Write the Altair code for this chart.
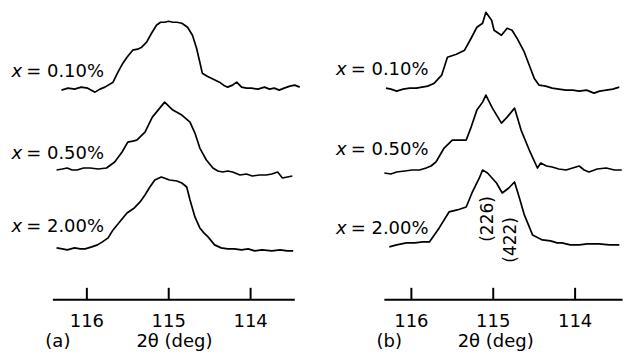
import altair as alt
import pandas as pd

FONT = "DejaVu Sans"

samples = ["0.10%", "0.50%", "2.00%"]
offsets = [266, 180, 106]           # vertical stacking of the three scans
label_lift = {"a": [17, 21, 22], "b": [19, 25, 20]}
ticks = [116, 115, 114]

# ---- panel (a) scans: 2theta (deg) and intensity (arb. units) ----
a010_tt = [116.31, 116.23, 116.15, 116.07, 115.99, 115.90, 115.84, 115.78, 115.68, 115.62,
           115.56, 115.51, 115.44, 115.38, 115.33, 115.27, 115.21, 115.15, 115.10, 115.05,
           115.00, 114.95, 114.90, 114.84, 114.77, 114.71, 114.66, 114.62, 114.59, 114.53,
           114.48, 114.43, 114.38, 114.33, 114.28, 114.22, 114.17, 114.11, 114.05, 113.99,
           113.91, 113.83, 113.77, 113.71, 113.65, 113.59, 113.52, 113.46, 113.40]
a010_i = [-1, 1, 0, 2, 1, -3, 0, 2, 7, 17,
          26, 32, 39, 40, 42, 47, 56, 64, 67, 67,
          68, 67, 67, 66, 62, 54, 41, 27, 16, 13,
          11, 9, 7, 4, 2, 4, 7, 2, 1, 1,
          0, 2, 0, 1, -1, 1, 3, 4, 2]

a050_tt = [116.37, 116.30, 116.24, 116.18, 116.12, 116.04, 115.96, 115.86, 115.76, 115.66,
           115.57, 115.50, 115.44, 115.39, 115.29, 115.20, 115.11, 115.05, 115.00, 114.95,
           114.84, 114.74, 114.68, 114.62, 114.58, 114.54, 114.46, 114.40, 114.34, 114.28,
           114.22, 114.13, 114.05, 113.98, 113.89, 113.81, 113.74, 113.67, 113.61, 113.55,
           113.49]
a050_i = [5, 6, 7, 5, 5, 7, 7, 6, 7, 13,
          23, 33, 34, 35, 43, 58, 67, 73, 69, 65,
          60, 53, 42, 27, 21, 15, 7, 4, 3, 4,
          3, 0, 1, -1, 0, 0, 1, 3, -3, -2,
          -1]

a200_tt = [116.37, 116.30, 116.24, 116.15, 116.08, 116.02, 115.94, 115.87, 115.81, 115.74,
           115.68, 115.60, 115.51, 115.42, 115.35, 115.29, 115.23, 115.17, 115.09, 114.99,
           114.90, 114.84, 114.78, 114.74, 114.68, 114.62, 114.57, 114.52, 114.44, 114.36,
           114.28, 114.20, 114.11, 114.03, 113.95, 113.86, 113.74, 113.64, 113.55, 113.48]
a200_i = [1, 0, -1, 1, 0, 0, 2, 4, 7, 11,
          19, 27, 36, 41, 47, 54, 62, 69, 72, 69,
          68, 66, 62, 49, 32, 21, 16, 12, 4, 1,
          0, 0, -1, 0, -2, -1, -2, -1, -2, -2]

# ---- panel (b) scans ----
b010_tt = [116.31, 116.25, 116.18, 116.10, 116.02, 115.94, 115.87, 115.80, 115.72, 115.63,
           115.56, 115.45, 115.35, 115.27, 115.20, 115.13, 115.09, 115.02, 114.99, 114.90,
           114.83, 114.77, 114.71, 114.62, 114.56, 114.50, 114.44, 114.36, 114.28, 114.20,
           114.11, 114.03, 113.95, 113.86, 113.77, 113.70, 113.62, 113.54, 113.46]
b010_i = [1, 0, -2, 0, 1, 1, 2, 3, 6, 14,
          32, 35, 39, 51, 62, 66, 77, 69, 59, 54,
          61, 59, 51, 37, 24, 11, 4, 3, 1, 0,
          -1, -1, -2, -1, -4, -2, -1, 0, 2]

b050_tt = [116.33, 116.25, 116.18, 116.08, 115.99, 115.90, 115.82, 115.76, 115.70, 115.60,
           115.50, 115.42, 115.33, 115.27, 115.20, 115.13, 115.09, 115.01, 114.90, 114.83,
           114.74, 114.66, 114.56, 114.46, 114.42, 114.35, 114.28, 114.20, 114.11, 114.03,
           113.95, 113.89, 113.83, 113.73, 113.62, 113.52, 113.43]
b050_i = [2, 1, 3, 4, 5, 5, 7, 9, 13, 27,
          35, 35, 35, 48, 65, 73, 80, 67, 52, 58,
          67, 45, 25, 7, 12, 9, 8, 6, 5, 7,
          9, 5, 3, 6, 7, 5, 5]

b200_tt = [116.27, 116.18, 116.06, 115.96, 115.86, 115.78, 115.66, 115.54, 115.44, 115.33,
           115.26, 115.17, 115.13, 115.07, 114.96, 114.89, 114.81, 114.74, 114.68, 114.62,
           114.52, 114.40, 114.30, 114.22, 114.16, 114.06, 113.95, 113.85, 113.71, 113.58,
           113.46]
b200_i = [2, 4, 6, 6, 7, 7, 21, 37, 39, 42,
          56, 71, 79, 76, 66, 56, 61, 67, 51, 34,
          14, 9, 8, 6, 6, 4, 4, 5, 5, 4,
          4]

hkl_labels = ["(226)", "(422)"]
hkl_tt = [115.07, 114.78]
hkl_lift = [30, 9]

panels = {
    "a": {"scans": [(a010_tt, a010_i), (a050_tt, a050_i), (a200_tt, a200_i)],
          "domain": [113.256, 117.061], "axis": (116.415, 113.46), "tag_x": 116.354,
          "tag": "(a)", "title_x": 114.93},
    "b": {"scans": [(b010_tt, b010_i), (b050_tt, b050_i), (b200_tt, b200_i)],
          "domain": [113.415, 117.220], "axis": (116.33, 113.42), "tag_x": 116.27,
          "tag": "(b)", "title_x": 114.97},
}

LABEL_X = 115.79
W, H = 312, 355


def panel(key):
    p = panels[key]
    rows = []
    for s, off, (tt, inten) in zip(samples, offsets, p["scans"]):
        for t, v in zip(tt, inten):
            rows.append({"tt": t, "y": v + off, "sample": s})
    df = pd.DataFrame(rows)

    xs = alt.Scale(domain=p["domain"], reverse=True, nice=False, zero=False)
    ys = alt.Scale(domain=[0, H], nice=False, zero=False)

    lines = alt.Chart(df).mark_line(color="black", strokeWidth=1.7, strokeJoin="round",
                                    interpolate="linear").encode(
        x=alt.X("tt:Q", scale=xs, axis=None),
        y=alt.Y("y:Q", scale=ys, axis=None),
        detail="sample:N",
        order=alt.Order("tt:Q", sort="descending"),
    )

    lab = pd.DataFrame({
        "tt": [LABEL_X] * 3,
        "y": [o + l for o, l in zip(offsets, label_lift[key])],
        "rest": ["= " + s for s in samples],
        "xx": ["x"] * 3,
    })
    lab_rest = alt.Chart(lab).mark_text(font=FONT, fontSize=18, align="right", baseline="middle",
                                        color="black").encode(
        x=alt.X("tt:Q", scale=xs), y=alt.Y("y:Q", scale=ys), text="rest:N")
    lab_x = alt.Chart(lab).mark_text(font=FONT, fontSize=18, fontStyle="italic", align="right",
                                     baseline="middle", dx=-82, color="black").encode(
        x=alt.X("tt:Q", scale=xs), y=alt.Y("y:Q", scale=ys), text="xx:N")

    ax = pd.DataFrame({"x1": [p["axis"][0]], "x2": [p["axis"][1]], "y": [55]})
    axis_line = alt.Chart(ax).mark_rule(color="black", strokeWidth=2).encode(
        x=alt.X("x1:Q", scale=xs), x2="x2:Q", y=alt.Y("y:Q", scale=ys))

    tk = pd.DataFrame({"t": ticks, "y0": [55] * 3, "y1": [67] * 3, "yl": [33] * 3,
                       "lab": [str(t) for t in ticks]})
    tick_marks = alt.Chart(tk).mark_rule(color="black", strokeWidth=2).encode(
        x=alt.X("t:Q", scale=xs), y=alt.Y("y0:Q", scale=ys), y2="y1:Q")
    tick_text = alt.Chart(tk).mark_text(font=FONT, fontSize=18, align="center", baseline="middle",
                                        color="black").encode(
        x=alt.X("t:Q", scale=xs), y=alt.Y("yl:Q", scale=ys), text="lab:N")

    bt = pd.DataFrame({"x": [p["tag_x"], p["title_x"]], "y": [13, 13],
                       "t": [p["tag"], "2θ (deg)"]})
    bottom = alt.Chart(bt).mark_text(font=FONT, fontSize=18, align="center", baseline="middle",
                                     color="black").encode(
        x=alt.X("x:Q", scale=xs), y=alt.Y("y:Q", scale=ys), text="t:N")

    layers = [lines, lab_rest, lab_x, axis_line, tick_marks, tick_text, bottom]

    if key == "b":
        hk = pd.DataFrame({"tt": hkl_tt, "y": [offsets[2] + l for l in hkl_lift], "t": hkl_labels})
        hkl = alt.Chart(hk).mark_text(font=FONT, fontSize=17, angle=270, align="center",
                                      baseline="middle", color="black").encode(
            x=alt.X("tt:Q", scale=xs), y=alt.Y("y:Q", scale=ys), text="t:N")
        layers.append(hkl)

    return alt.layer(*layers).properties(width=W, height=H)


chart = alt.hconcat(panel("a"), panel("b"), spacing=0).resolve_scale(x="independent").properties(
    padding=0, background="white"
).configure_view(stroke=None)

chart.save("out.html", embed_options={"renderer": "svg", "actions": False})
